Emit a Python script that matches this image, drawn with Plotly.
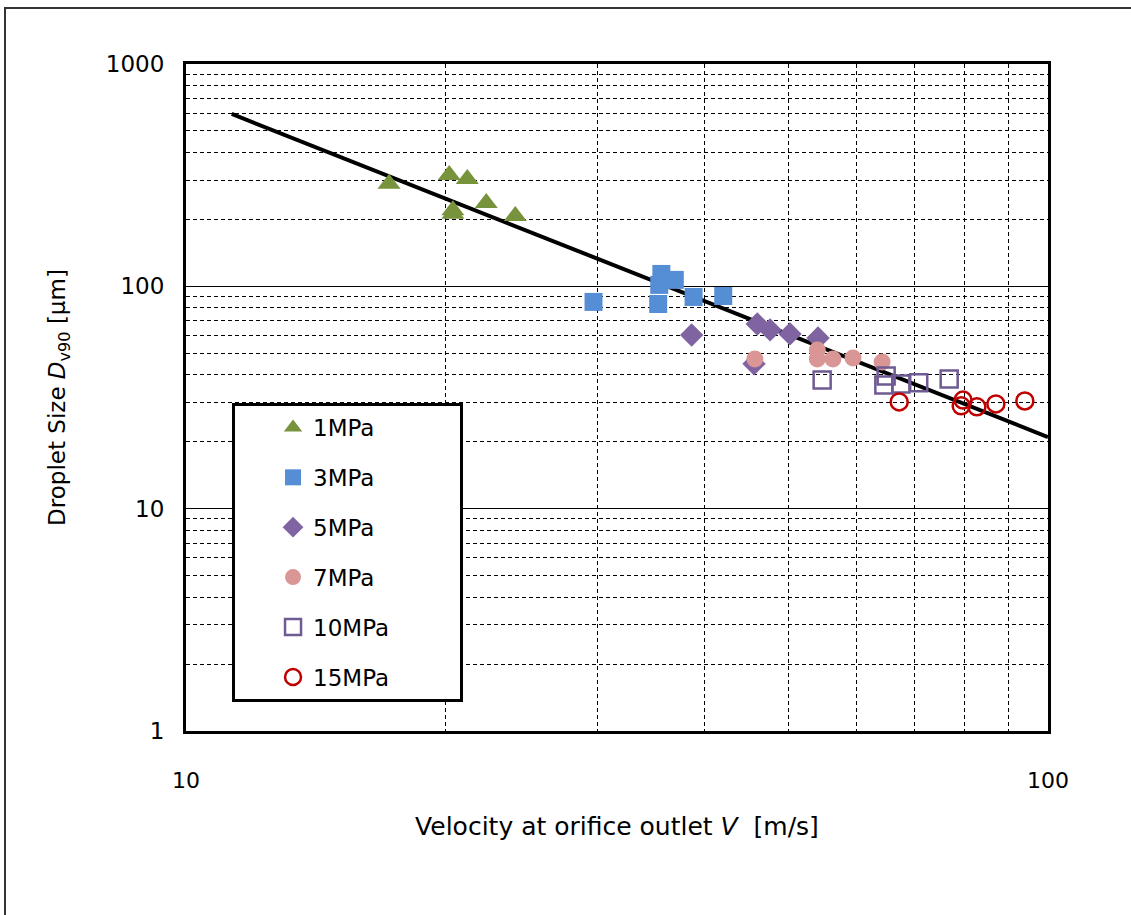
import plotly.graph_objects as go

# ---- data ----
v_1mpa = [17.2, 20.2, 20.4, 20.4, 21.2, 22.3, 24.1]
d_1mpa = [289, 317, 220, 212, 304, 237, 207]

v_3mpa = [29.7, 35.6, 35.4, 36.9, 35.3, 38.8, 42.0]
d_3mpa = [85.1, 113.7, 101.5, 106.9, 83.3, 89.6, 90.5]

v_5mpa = [38.6, 46.0, 47.6, 50.2, 54.1, 45.6]
d_5mpa = [60.4, 67.7, 63.7, 61.1, 58.6, 44.8]

v_7mpa = [45.7, 54.0, 54.0, 56.3, 59.4, 64.2]
d_7mpa = [47.1, 51.7, 47.1, 47.1, 47.6, 45.7]

v_10mpa = [54.7, 64.9, 64.5, 67.5, 70.8, 76.8]
d_10mpa = [37.9, 39.5, 36.0, 36.4, 36.8, 38.3]

v_15mpa = [67.2, 79.3, 79.7, 82.7, 87.0, 94.0]
d_15mpa = [30.2, 29.0, 30.8, 28.7, 29.6, 30.5]

fit_v = [11.3, 100]
fit_d = [596, 21.0]

y_ticks = [1, 10, 100, 1000]
x_ticks = [10, 100]

FONT = "DejaVu Sans"
DASH = "4px,3px"

fig = go.Figure()

# fitted power-law line
fig.add_trace(go.Scatter(x=fit_v, y=fit_d, mode="lines",
                         line=dict(color="black", width=4),
                         showlegend=False, hoverinfo="skip"))

series = [
    ("1MPa", v_1mpa, d_1mpa, dict(symbol="triangle-up", size=20, color="#77933C")),
    ("3MPa", v_3mpa, d_3mpa, dict(symbol="square", size=18, color="#558ED5")),
    ("5MPa", v_5mpa, d_5mpa, dict(symbol="diamond", size=18, color="#8064A2")),
    ("7MPa", v_7mpa, d_7mpa, dict(symbol="circle", size=17, color="#D99694")),
    ("10MPa", v_10mpa, d_10mpa, dict(symbol="square-open", size=17, color="#6F5B93",
                                     line=dict(width=2.5))),
    ("15MPa", v_15mpa, d_15mpa, dict(symbol="circle-open", size=17, color="#C00000",
                                     line=dict(width=2.5))),
]
for i, (name, xs, ys, mk) in enumerate(series):
    fig.add_trace(go.Scatter(x=xs, y=ys, mode="markers", name=name + "\u00a0" * 9,
                             marker=mk, legendgroup=f"g{i}"))

fig.update_layout(
    width=1131, height=915,
    margin=dict(l=186, r=83, t=64, b=184),
    paper_bgcolor="white", plot_bgcolor="white",
    font=dict(family=FONT, color="black", size=22),
    showlegend=True,
    legend=dict(x=0.0534, y=0.4918, xanchor="left", yanchor="top",
                bgcolor="white", bordercolor="black", borderwidth=3,
                font=dict(size=23, family=FONT),
                tracegroupgap=17, indentation=38, itemwidth=30),
    xaxis=dict(type="log", range=[1, 2], tickvals=x_ticks, ticktext=[str(t) for t in x_ticks],
               showline=True, linecolor="black", linewidth=3, mirror=True,
               showgrid=False, zeroline=False, ticks="", ticklen=0,
               tickfont=dict(size=22, family=FONT), ticklabelstandoff=28,
               minor=dict(dtick="D1", showgrid=True, gridcolor="black", gridwidth=1,
                          griddash=DASH, ticks=""),
               title=dict(text="Velocity at orifice outlet <i>V</i>  [m/s]",
                          font=dict(size=25, family=FONT), standoff=26)),
    yaxis=dict(type="log", range=[0, 3], tickvals=y_ticks, ticktext=[str(t) for t in y_ticks],
               showline=True, linecolor="black", linewidth=3, mirror=True,
               showgrid=True, gridcolor="black", gridwidth=1, zeroline=False,
               ticks="", tickfont=dict(size=23, family=FONT), ticklabelstandoff=14,
               minor=dict(dtick="D1", showgrid=True, gridcolor="black", gridwidth=1,
                          griddash=DASH, ticks=""),
               title=dict(text="\u00a0\u00a0\u00a0Droplet Size <i>D</i><sub>v90</sub> [μm]",
                          font=dict(size=23, family=FONT), standoff=34)),
)

# outer frame of the figure
fig.add_shape(type="rect", xref="paper", yref="paper",
              x0=(5 - 186) / 862, x1=(1140 - 186) / 862,
              y0=(731 - 925) / 667, y1=(731 - 8) / 667,
              line=dict(color="#333333", width=2), fillcolor="rgba(0,0,0,0)", layer="below")

fig.write_html("out.html")
